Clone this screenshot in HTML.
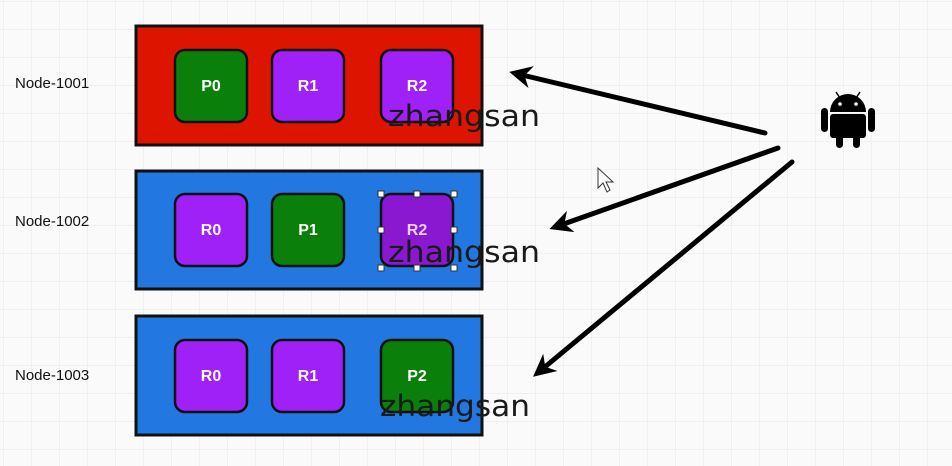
<!DOCTYPE html>
<html><head><meta charset="utf-8"><style>
body{margin:0;width:952px;height:466px;overflow:hidden;background:#fafafa;font-family:"Liberation Sans",sans-serif;}
svg{display:block}
</style></head><body>
<svg width="952" height="466">
<defs>
<pattern id="g" width="28" height="28" patternUnits="userSpaceOnUse" x="4" y="2">
<path d="M28 0V28M0 28H28" stroke="#ececec" stroke-width="1.5" fill="none"/>
</pattern>
<marker id="ah" viewBox="0 0 10 10" refX="6" refY="5" markerWidth="4.5" markerHeight="4.5" orient="auto-start-reverse">
<path d="M0 0L10 5L0 10L3 5Z" fill="#000"/>
</marker>
</defs>
<rect width="952" height="466" fill="url(#g)"/>

<g font-size="15" fill="#111">
<text x="15" y="88">Node-1001</text>
<text x="15" y="226">Node-1002</text>
<text x="15" y="380">Node-1003</text>
</g>

<rect x="136" y="26" width="346" height="119" fill="#dd1500" stroke="#111" stroke-width="3"/>
<rect x="136" y="171" width="346" height="118" fill="#2277e0" stroke="#111" stroke-width="3"/>
<rect x="136" y="316" width="346" height="119" fill="#2277e0" stroke="#111" stroke-width="3"/>

<g stroke="#111" stroke-width="2.5" font-size="16" font-weight="bold" text-anchor="middle">
<g><rect x="175" y="50" width="72" height="72" rx="10" fill="#0a800a"/><text x="211" y="91" fill="#fff" stroke="none">P0</text></g>
<g><rect x="272" y="50" width="72" height="72" rx="10" fill="#a020f8"/><text x="308" y="91" fill="#fff" stroke="none">R1</text></g>
<g><rect x="381" y="50" width="72" height="72" rx="10" fill="#a020f8"/><text x="417" y="91" fill="#fff" stroke="none">R2</text></g>

<g><rect x="175" y="194" width="72" height="72" rx="10" fill="#a020f8"/><text x="211" y="235" fill="#fff" stroke="none">R0</text></g>
<g><rect x="272" y="194" width="72" height="72" rx="10" fill="#0a800a"/><text x="308" y="235" fill="#fff" stroke="none">P1</text></g>
<g><rect x="381" y="194" width="72" height="72" rx="10" fill="#8a18d0"/><text x="417" y="235" fill="#e8d0f8" stroke="none">R2</text></g>

<g><rect x="175" y="340" width="72" height="72" rx="10" fill="#a020f8"/><text x="211" y="381" fill="#fff" stroke="none">R0</text></g>
<g><rect x="272" y="340" width="72" height="72" rx="10" fill="#a020f8"/><text x="308" y="381" fill="#fff" stroke="none">R1</text></g>
<g><rect x="381" y="340" width="72" height="72" rx="10" fill="#0a800a"/><text x="417" y="381" fill="#fff" stroke="none">P2</text></g>
</g>

<g fill="#fff" stroke="#333" stroke-width="1">
<rect x="378" y="191" width="6" height="6"/><rect x="414" y="191" width="6" height="6"/><rect x="451" y="191" width="6" height="6"/>
<rect x="378" y="227" width="6" height="6"/><rect x="451" y="227" width="6" height="6"/>
<rect x="378" y="265" width="6" height="6"/><rect x="414" y="265" width="6" height="6"/><rect x="451" y="265" width="6" height="6"/>
</g>

<g font-size="29" fill="#1a1a1a" font-family="'DejaVu Sans',sans-serif">
<text x="388" y="126" textLength="152" lengthAdjust="spacingAndGlyphs">zhangsan</text>
<text x="388" y="262" textLength="152" lengthAdjust="spacingAndGlyphs">zhangsan</text>
<text x="380" y="416" textLength="150" lengthAdjust="spacingAndGlyphs">zhangsan</text>
</g>

<g stroke="#000" stroke-width="5" stroke-linecap="round" marker-end="url(#ah)">
<line x1="765" y1="133" x2="518" y2="74"/>
<line x1="778" y1="148" x2="558" y2="226"/>
<line x1="792" y1="162" x2="540" y2="371"/>
</g>

<g fill="#000">
<path d="M830 112 a18 18 0 0 1 36 0 Z"/>
<line x1="836" y1="92" x2="840" y2="98" stroke="#000" stroke-width="1.5"/>
<line x1="860" y1="92" x2="856" y2="98" stroke="#000" stroke-width="1.5"/>
<circle cx="840" cy="104" r="1.8" fill="#fff"/><circle cx="856" cy="104" r="1.8" fill="#fff"/>
<rect x="830" y="114" width="36" height="24" rx="3"/>
<rect x="821" y="108" width="7" height="24" rx="3.5"/>
<rect x="868" y="108" width="7" height="24" rx="3.5"/>
<rect x="836" y="134" width="7" height="14" rx="3.5"/>
<rect x="853" y="134" width="7" height="14" rx="3.5"/>
</g>

<path d="M598 168 L598 188 L603 183 L607 192 L610 190 L606 182 L613 182 Z" fill="#fff" stroke="#333" stroke-width="1"/>
</svg>
</body></html>
